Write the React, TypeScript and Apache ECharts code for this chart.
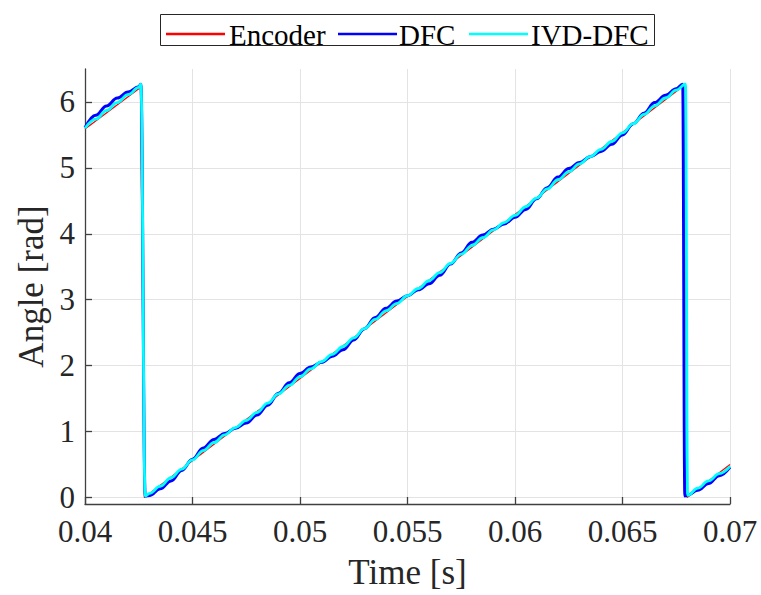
import React, { useEffect, useRef } from "react";
import * as echarts from "echarts";

// Encoder (reference) angle: straight ramps with wraps at 2*pi
const encoderTime = [0.04, 0.04258, 0.04276, 0.06786, 0.068, 0.07];
const encoderAngle = [5.59, 6.22, 0.0, 6.25, 0.0, 0.5];

// DFC estimated angle
const dfcTime = [
  0.04, 0.0405, 0.041, 0.0415, 0.042, 0.0425, 0.0426, 0.0428,
  0.043, 0.0435, 0.044, 0.0445, 0.045, 0.0455, 0.046, 0.0465, 0.047, 0.0475,
  0.048, 0.0485, 0.049, 0.0495, 0.05, 0.0505, 0.051, 0.0515, 0.052, 0.0525,
  0.053, 0.0535, 0.054, 0.0545, 0.055, 0.0555, 0.056, 0.0565, 0.057, 0.0575,
  0.058, 0.0585, 0.059, 0.0595, 0.06, 0.0605, 0.061, 0.0615, 0.062, 0.0625,
  0.063, 0.0635, 0.064, 0.0645, 0.065, 0.0655, 0.066, 0.0665, 0.067, 0.0675,
  0.0678, 0.0679, 0.068, 0.0685, 0.069, 0.0695, 0.07,
];
const dfcAngle = [
  5.61, 5.8, 5.94, 6.06, 6.15, 6.23, 6.27, 0.02,
  0.03, 0.13, 0.25, 0.41, 0.58, 0.75, 0.88, 0.97, 1.05, 1.13,
  1.25, 1.4, 1.58, 1.74, 1.88, 1.98, 2.05, 2.14, 2.24, 2.39,
  2.56, 2.73, 2.87, 2.98, 3.06, 3.15, 3.24, 3.37, 3.54, 3.71,
  3.87, 3.98, 4.07, 4.15, 4.25, 4.37, 4.53, 4.7, 4.86, 4.99,
  5.08, 5.17, 5.25, 5.36, 5.5, 5.67, 5.83, 5.99, 6.1, 6.2,
  6.27, 0.02, 0.03, 0.11, 0.21, 0.33, 0.46,
];

// IVD-DFC estimated angle
const ivdTime = [
  0.04, 0.0405, 0.041, 0.0415, 0.042, 0.0425, 0.0426, 0.0428,
  0.043, 0.0435, 0.044, 0.0445, 0.045, 0.0455, 0.046, 0.0465, 0.047, 0.0475,
  0.048, 0.0485, 0.049, 0.0495, 0.05, 0.0505, 0.051, 0.0515, 0.052, 0.0525,
  0.053, 0.0535, 0.054, 0.0545, 0.055, 0.0555, 0.056, 0.0565, 0.057, 0.0575,
  0.058, 0.0585, 0.059, 0.0595, 0.06, 0.0605, 0.061, 0.0615, 0.062, 0.0625,
  0.063, 0.0635, 0.064, 0.0645, 0.065, 0.0655, 0.066, 0.0665, 0.067, 0.0675,
  0.06793, 0.06803, 0.0685, 0.069, 0.0695, 0.07,
];
const ivdAngle = [
  5.6, 5.74, 5.87, 5.99, 6.11, 6.22, 6.27, 0.02,
  0.06, 0.17, 0.3, 0.43, 0.57, 0.71, 0.83, 0.95, 1.06, 1.17,
  1.29, 1.43, 1.57, 1.7, 1.83, 1.95, 2.06, 2.17, 2.29, 2.42,
  2.56, 2.7, 2.83, 2.94, 3.06, 3.17, 3.29, 3.41, 3.55, 3.69,
  3.82, 3.94, 4.06, 4.17, 4.28, 4.41, 4.54, 4.68, 4.82, 4.94,
  5.06, 5.17, 5.28, 5.4, 5.53, 5.67, 5.81, 5.94, 6.06, 6.18,
  6.27, 0.03, 0.14, 0.25, 0.36, 0.47,
];

const yTicks = [0, 1, 2, 3, 4, 5, 6];

const seriesNames = ["Encoder", "DFC", "IVD-DFC"];
const seriesColors = ["#ff0000", "#0000ff", "#00ffff"];

const pairs = (t: number[], v: number[]) => t.map((x, i) => [x, v[i]]);

export default function App() {
  const ref = useRef<HTMLDivElement>(null);
  useEffect(() => {
    if (!ref.current) return;
    const chart = echarts.init(ref.current, null, { renderer: "svg" });
    const font = "'Liberation Serif', 'Times New Roman', serif";
    const axisColor = "#404040";

    // legend drawn as graphic elements (box, line samples, labels)
    const legendItems = [
      { x1: 166, x2: 225, tx: 229 },
      { x1: 338, x2: 397, tx: 399 },
      { x1: 469, x2: 528, tx: 531 },
    ];
    const legendGraphics: any[] = [
      {
        type: "rect",
        shape: { x: 160.5, y: 14.5, width: 494, height: 31 },
        style: { fill: "#ffffff", stroke: "#262626", lineWidth: 1 },
        z: 100,
      },
    ];
    legendItems.forEach((it, i) => {
      legendGraphics.push({
        type: "line",
        shape: { x1: it.x1, y1: 34, x2: it.x2, y2: 34 },
        style: { stroke: seriesColors[i], lineWidth: 2.4 },
        z: 101,
      });
      legendGraphics.push({
        type: "text",
        x: it.tx,
        y: 35,
        style: {
          text: seriesNames[i],
          fontFamily: font,
          fontSize: 29,
          fill: "#000000",
          align: "left",
          verticalAlign: "middle",
        },
        z: 101,
      });
    });

    chart.setOption({
      animation: false,
      backgroundColor: "#ffffff",
      graphic: legendGraphics,
      grid: { left: 85, right: 31, top: 69, bottom: 88, containLabel: false },
      xAxis: {
        type: "value",
        min: 0.04,
        max: 0.07,
        interval: 0.005,
        name: "Time [s]",
        nameLocation: "middle",
        nameGap: 51,
        nameTextStyle: { fontFamily: font, fontSize: 35, color: "#262626" },
        axisLine: { show: true, onZero: false, lineStyle: { color: axisColor, width: 1.3 } },
        axisTick: { show: true, inside: true, length: 7, lineStyle: { color: axisColor, width: 1.3 } },
        axisLabel: {
          fontFamily: font,
          fontSize: 31,
          color: "#262626",
          margin: 12,
          formatter: (v: number) => String(+v.toFixed(3)),
        },
        splitLine: { show: true, lineStyle: { color: "#e3e3e3", width: 1 } },
      },
      yAxis: {
        type: "value",
        min: -0.1,
        max: 6.5,
        splitNumber: 6,
        name: "Angle [rad]",
        nameLocation: "middle",
        nameGap: 36,
        nameTextStyle: { fontFamily: font, fontSize: 35, color: "#262626" },
        axisLine: { show: true, onZero: false, lineStyle: { color: axisColor, width: 1.3 } },
        axisTick: {
          show: true,
          inside: true,
          length: 7,
          customValues: yTicks,
          lineStyle: { color: axisColor, width: 1.3 },
        },
        axisLabel: {
          fontFamily: font,
          fontSize: 31,
          color: "#262626",
          margin: 10,
          customValues: yTicks,
          formatter: (v: number) => String(v),
        },
        splitLine: { show: true, lineStyle: { color: "#e3e3e3", width: 1 } },
      },
      series: [
        {
          name: seriesNames[0],
          type: "line",
          symbol: "none",
          data: pairs(encoderTime, encoderAngle),
          lineStyle: { color: seriesColors[0], width: 1.3 },
          itemStyle: { color: seriesColors[0] },
          z: 2,
        },
        {
          name: seriesNames[1],
          type: "line",
          symbol: "none",
          smooth: 0.4,
          smoothMonotone: "x",
          data: pairs(dfcTime, dfcAngle),
          lineStyle: { color: seriesColors[1], width: 3 },
          itemStyle: { color: seriesColors[1] },
          z: 3,
        },
        {
          name: seriesNames[2],
          type: "line",
          symbol: "none",
          smooth: 0.4,
          smoothMonotone: "x",
          data: pairs(ivdTime, ivdAngle),
          lineStyle: { color: seriesColors[2], width: 2.8 },
          itemStyle: { color: seriesColors[2] },
          z: 4,
        },
      ],
    });
    return () => chart.dispose();
  }, []);
  return <div ref={ref} style={{ width: 761, height: 595, position: "absolute", left: 0, top: 0 }} />;
}
